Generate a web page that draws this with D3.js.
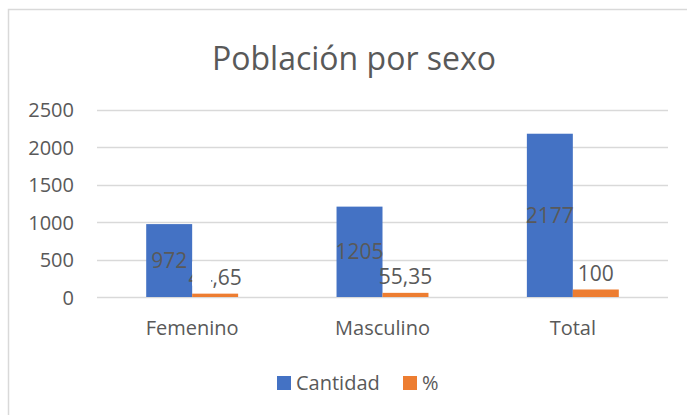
<!DOCTYPE html>
<html>
<head>
<meta charset="utf-8">
<script src="https://cdn.jsdelivr.net/npm/d3@7"></script>
<style>
  body { margin: 0; background: #fff; }
  text { font-family: "Open Sans", "Noto Sans", sans-serif; fill: #595959; }
</style>
</head>
<body>
<svg id="chart"></svg>
<script>
// chart data
const categories = ["Femenino", "Masculino", "Total"];
const seriesNames = ["Cantidad", "%"];
const cantidad = [972, 1205, 2177];
const porcentaje = [44.65, 55.35, 100];
const yTicks = [0, 500, 1000, 1500, 2000, 2500];

const W = 687, H = 415;
const colors = { "Cantidad": "#4472C4", "%": "#ED7D31" };
const fmt = v => String(v).replace(".", ",");

const svg = d3.select("#chart").attr("width", W).attr("height", H);

// outer chart border (right/bottom run off the picture)
svg.append("rect")
  .attr("x", 8.5).attr("y", 9.5)
  .attr("width", 700).attr("height", 430)
  .attr("fill", "none").attr("stroke", "#d9d9d9").attr("stroke-width", 1.5);

// title
svg.append("text")
  .attr("x", 354).attr("y", 70)
  .attr("text-anchor", "middle")
  .style("font-size", "32px")
  .text("Población por sexo");

const margin = { left: 97, right: 668, top: 109.5, bottom: 297 };

const x = d3.scaleBand()
  .domain(categories)
  .range([margin.left, margin.right])
  .paddingInner(0.517)
  .paddingOuter(0.2585);

const xs = d3.scaleBand()
  .domain(seriesNames)
  .range([0, x.bandwidth()]);

const y = d3.scaleLinear()
  .domain([0, 2500])
  .range([margin.bottom, margin.top]);

// gridlines
svg.append("g")
  .selectAll("line")
  .data(yTicks)
  .enter().append("line")
  .attr("x1", margin.left).attr("x2", margin.right)
  .attr("y1", d => Math.round(y(d)) + 0.5)
  .attr("y2", d => Math.round(y(d)) + 0.5)
  .attr("stroke", "#d9d9d9").attr("stroke-width", 1.3);

// y axis labels
const yAxis = d3.axisLeft(y).tickValues(yTicks).tickFormat(d3.format("d"))
  .tickSize(0).tickPadding(0);
const gy = svg.append("g")
  .attr("transform", "translate(74,0)")
  .call(yAxis);
gy.select(".domain").remove();
gy.selectAll("text")
  .attr("fill", null)
  .style("font-size", "20px")
  .attr("dy", "0.35em");

// x axis labels
const xAxis = d3.axisBottom(x).tickSize(0).tickPadding(0);
const gx = svg.append("g")
  .attr("transform", "translate(0,321)")
  .call(xAxis);
gx.select(".domain").remove();
gx.selectAll("text")
  .attr("fill", null)
  .style("font-size", "20px")
  .attr("dy", "0.71em");

// bars
const rows = categories.map((c, i) => ({ cat: c, values: [
  { name: "Cantidad", value: cantidad[i] },
  { name: "%", value: porcentaje[i] }
] }));

const groups = svg.append("g").selectAll("g")
  .data(rows)
  .enter().append("g")
  .attr("transform", d => "translate(" + x(d.cat) + ",0)");

groups.selectAll("rect")
  .data(d => d.values)
  .enter().append("rect")
  .attr("x", d => xs(d.name))
  .attr("width", xs.bandwidth())
  .attr("y", d => y(d.value))
  .attr("height", d => y(0) - y(d.value))
  .attr("fill", d => colors[d.name]);

// labels: Cantidad centered in bar, % above bar
groups.append("text")
  .attr("x", xs("Cantidad") + xs.bandwidth() / 2)
  .attr("y", d => (y(d.values[0].value) + y(0)) / 2)
  .attr("dy", "0.36em")
  .attr("text-anchor", "middle")
  .style("font-size", "21px")
  .text(d => fmt(d.values[0].value));

groups.append("text")
  .attr("x", xs("%") + xs.bandwidth() / 2)
  .attr("y", d => y(d.values[1].value) - 9)
  .attr("text-anchor", "middle")
  .style("font-size", "21px")
  .text(d => fmt(d.values[1].value));

// the reference hides part of the first % label next to the blue bar
svg.append("rect")
  .attr("x", x(categories[0]) + xs("%"))
  .attr("y", y(porcentaje[0]) - 32)
  .attr("width", 19)
  .attr("height", 24)
  .attr("fill", "#fff");

// legend
const legend = svg.append("g").attr("transform", "translate(277,376)");
const items = [{ name: "Cantidad", x: 0 }, { name: "%", x: 126 }];
items.forEach(it => {
  legend.append("rect")
    .attr("x", it.x).attr("y", 0)
    .attr("width", 14).attr("height", 14)
    .attr("fill", colors[it.name]);
  legend.append("text")
    .attr("x", it.x + 19).attr("y", 7)
    .attr("dy", "0.36em")
    .style("font-size", "20px")
    .text(it.name);
});
</script>
</body>
</html>
